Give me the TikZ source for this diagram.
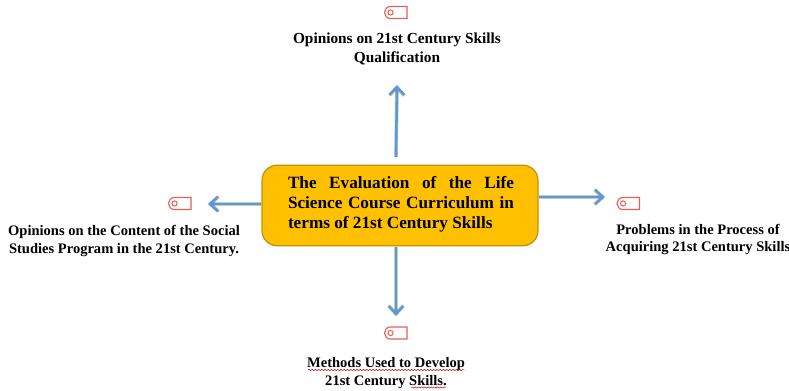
\documentclass[tikz,border=0pt]{standalone}
\usepackage{fontspec}
\setmainfont{Liberation Serif}
\usetikzlibrary{positioning,arrows.meta,decorations.pathmorphing}
\definecolor{boxfill}{RGB}{255,192,0}
\definecolor{boxline}{RGB}{190,145,10}
\definecolor{arrowblue}{RGB}{91,155,213}
\definecolor{tagred}{RGB}{226,96,84}
\tikzset{
	mainbox/.style={draw=boxline,line width=0.9pt,fill=boxfill,rounded corners=11.5pt,minimum width=207pt,minimum height=60.5pt,inner sep=0pt},
	outlabel/.style={align=center,inner sep=0pt,font=\bfseries\fontsize{10.9}{13}\selectfont},
	flowarrow/.style={draw=arrowblue,line width=1.9pt,-{Straight Barb[length=6pt,width=11pt,line width=1.9pt]}},
	flowshadow/.style={draw=black,opacity=0.22,line width=2.8pt,-{Straight Barb[length=6pt,width=11pt,line width=2.6pt]},shift={(3,3)}},
	wavyline/.style={draw=red!75!black,line width=0.35pt,decorate,decoration={snake,amplitude=0.5pt,segment length=2.4pt}},
}
\newcommand{\tagshape}[2]{%
	\draw [tagred,line width=0.85pt] (#1+11,#2-6) -- (#1-6,#2-6) .. controls (#1-9,#2-6) and (#1-11.5,#2-3) .. (#1-11.5,#2) .. controls (#1-11.5,#2+3) and (#1-9,#2+6) .. (#1-6,#2+6) -- (#1+11,#2+6) -- cycle ;
	\draw [tagred,line width=0.75pt] (#1-5.5,#2) circle [radius=2.6] ;
}
\begin{document}
\begin{tikzpicture}[x=0.75pt,y=0.75pt,yscale=-1,xscale=1]
	\useasboundingbox (0,0) rectangle (789,391);
	
	% Central box
	\node [mainbox] (course) at (400,205.5) {};
	\node [align=justify,text width=169.5pt,inner sep=0pt,font=\bfseries\fontsize{12.9}{15.2}\selectfont] (title) at (401,204.5) {The Evaluation of the Life\linebreak Science Course Curriculum in\linebreak terms of 21st Century Skills};
	
	% Arrow ends
	\coordinate (upstart) at (396,157);
	\coordinate (upend) at (397,85);
	\coordinate (leftstart) at (course.west |- 0,204);
	\coordinate (leftend) at (208,204);
	\coordinate (rightstart) at (course.east |- 0,197);
	\coordinate (rightend) at (605,197);
	\coordinate (downstart) at (396,247);
	\coordinate (downend) at (396,316);
	
	% Arrows
	\foreach \from/\to in {upstart/upend,leftstart/leftend,rightstart/rightend,downstart/downend} {
		\draw [flowshadow] (\from) -- (\to) ;
		\draw [flowarrow] (\from) -- (\to) ;
	}
	
	% Tag icons
	\tagshape{396}{12.5}
	\tagshape{180}{203.5}
	\tagshape{628.5}{203.5}
	\tagshape{396}{333}
	
	% Text Nodes
	\node [outlabel,font=\bfseries\fontsize{11.5}{14.2}\selectfont] (topnote) at (397,48.5) {Opinions on 21st Century Skills\\Qualification};
	\node [outlabel] (leftnote) at (124,241) {Opinions on the Content of the Social\\Studies Program in the 21st Century.};
	\node [outlabel] (rightnote) at (698,239.5) {Problems in the Process of\\Acquiring 21st Century Skills};
	\node [outlabel] (downnote) at (386,373) {Methods Used to Develop\\21st Century Skills.};
	
	% Spelling marks
	\draw [wavyline] (308,370) -- (465,370) ;
	\draw [wavyline] (411,387.5) -- (446,387.5) ;
\end{tikzpicture}
\end{document}
